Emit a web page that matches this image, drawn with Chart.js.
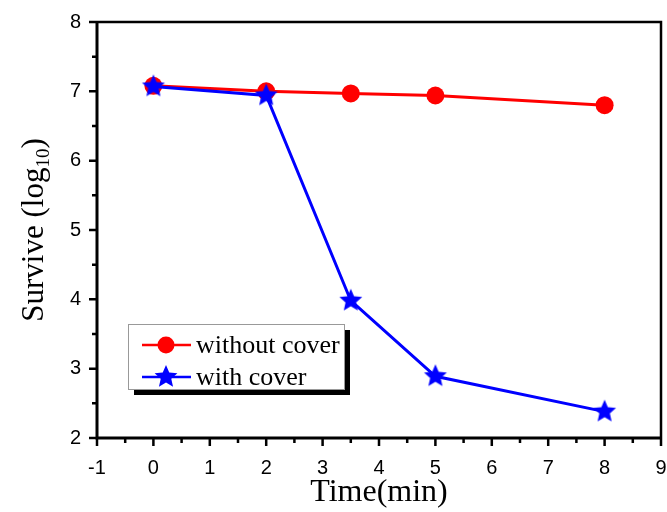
<!DOCTYPE html>
<html>
<head>
<meta charset="utf-8">
<script src="https://cdn.jsdelivr.net/npm/chart.js@4/dist/chart.umd.min.js"></script>
<style>
  html, body { margin: 0; padding: 0; background: #fff; }
  #wrap { width: 667px; height: 512px; }
</style>
</head>
<body>
<div id="wrap"><canvas id="survChart" width="667" height="512"></canvas></div>
<script>
// data
var times = [0, 2, 3.5, 5, 8];
var withoutCover = [7.08, 7.00, 6.97, 6.94, 6.80];
var withCover = [7.07, 6.94, 3.98, 2.89, 2.38];
var seriesLabels = ['without cover', 'with cover'];
var xTicks = [-1, 0, 1, 2, 3, 4, 5, 6, 7, 8, 9];
var yTicks = [2, 3, 4, 5, 6, 7, 8];

// filled five point star used as point style
function makeStar(r, color) {
    var c = document.createElement('canvas');
    c.width = c.height = 2 * r + 2;
    var g = c.getContext('2d');
    g.beginPath();
    for (var i = 0; i < 10; i++) {
        var rad = i % 2 ? r * 0.46 : r;
        var a = -Math.PI / 2 + i * Math.PI / 5;
        g.lineTo(r + 1 + rad * Math.cos(a), r + 1 + rad * Math.sin(a));
    }
    g.closePath();
    g.fillStyle = color;
    g.fill();
    return c;
}
var star = makeStar(12, '#0000ff');

function toXY(xs, ys) {
    return xs.map(function(x, i) { return {x: x, y: ys[i]}; });
}

// axis frame, minor ticks, y title and boxed legend
var decorPlugin = {
    id: 'decor',
    afterDraw: function(chart) {
        var ctx = chart.ctx;
        var a = chart.chartArea;
        var xs = chart.scales.x, ys = chart.scales.y;
        ctx.save();
        ctx.strokeStyle = '#000';
        // top / right frame
        ctx.lineWidth = 2.5;
        ctx.beginPath();
        ctx.moveTo(a.left, a.top);
        ctx.lineTo(a.right, a.top);
        ctx.lineTo(a.right, a.bottom);
        ctx.stroke();
        // left / bottom axes
        ctx.lineWidth = 3;
        ctx.beginPath();
        ctx.moveTo(a.left, a.top - 1);
        ctx.lineTo(a.left, a.bottom);
        ctx.lineTo(a.right + 1, a.bottom);
        ctx.stroke();
        // ticks (outward)
        ctx.lineWidth = 2.5;
        ctx.beginPath();
        for (var v = -1; v <= 9.001; v += 0.5) {
            var px = xs.getPixelForValue(v);
            var len = Math.abs(v - Math.round(v)) < 1e-6 ? 8 : 5;
            ctx.moveTo(px, a.bottom);
            ctx.lineTo(px, a.bottom + len);
        }
        for (var w = 2; w <= 8.001; w += 0.5) {
            var py = ys.getPixelForValue(w);
            var l2 = Math.abs(w - Math.round(w)) < 1e-6 ? 8 : 5;
            ctx.moveTo(a.left, py);
            ctx.lineTo(a.left - l2, py);
        }
        ctx.stroke();

        // y title with subscript
        ctx.fillStyle = '#000';
        ctx.translate(35, (a.top + a.bottom) / 2);
        ctx.rotate(-Math.PI / 2);
        ctx.textBaseline = 'middle';
        var big = '31px "Liberation Serif", "Times New Roman", serif';
        var small = '19px "Liberation Serif", "Times New Roman", serif';
        ctx.font = big;
        var p1 = 'Survive (log', p3 = ')';
        var w1 = ctx.measureText(p1).width, w3 = ctx.measureText(p3).width;
        ctx.font = small;
        var w2 = ctx.measureText('10').width;
        var x0 = -(w1 + w2 + w3) / 2;
        ctx.font = big;
        ctx.textAlign = 'left';
        ctx.fillText(p1, x0, 0);
        ctx.font = small;
        ctx.fillText('10', x0 + w1, 9);
        ctx.font = big;
        ctx.fillText(p3, x0 + w1 + w2, 0);
        ctx.restore();

        // legend box with shadow
        ctx.save();
        var bx = a.left + 31, by = a.top + 302, bw = 216, bh = 65;
        ctx.fillStyle = '#000';
        ctx.fillRect(bx + 6, by + 6, bw, bh);
        ctx.fillStyle = '#fff';
        ctx.fillRect(bx, by, bw, bh);
        ctx.strokeStyle = '#999';
        ctx.lineWidth = 1;
        ctx.strokeRect(bx + 0.5, by + 0.5, bw, bh);
        var colors = ['#ff0000', '#0000ff'];
        for (var k = 0; k < 2; k++) {
            var ly = by + 21 + k * 32;
            ctx.strokeStyle = colors[k];
            ctx.lineWidth = 2.5;
            ctx.beginPath();
            ctx.moveTo(bx + 14, ly);
            ctx.lineTo(bx + 63, ly);
            ctx.stroke();
            if (k === 0) {
                ctx.fillStyle = colors[k];
                ctx.beginPath();
                ctx.arc(bx + 38, ly, 8.5, 0, Math.PI * 2);
                ctx.fill();
            } else {
                ctx.drawImage(star, bx + 38 - star.width / 2, ly - star.height / 2);
            }
            ctx.fillStyle = '#000';
            ctx.font = '26px "Liberation Serif", "Times New Roman", serif';
            ctx.textBaseline = 'middle';
            ctx.textAlign = 'left';
            ctx.fillText(seriesLabels[k], bx + 68, ly + 1);
        }
        ctx.restore();
    }
};

var tickFont = { family: '"Liberation Sans", Arial, sans-serif', size: 20 };

new Chart(document.getElementById('survChart').getContext('2d'), {
    type: 'line',
    data: {
        datasets: [{
            label: seriesLabels[1],
            data: toXY(times, withCover),
            borderColor: '#0000ff',
            backgroundColor: '#0000ff',
            borderWidth: 3,
            pointStyle: star,
            pointRadius: 12,
            tension: 0,
            order: 0
        }, {
            label: seriesLabels[0],
            data: toXY(times, withoutCover),
            borderColor: '#ff0000',
            backgroundColor: '#ff0000',
            borderWidth: 3,
            pointStyle: 'circle',
            pointRadius: 9,
            pointBorderWidth: 0,
            tension: 0,
            order: 1
        }]
    },
    options: {
        responsive: false,
        animation: false,
        layout: { autoPadding: false, padding: { top: 22, right: 6, left: 0, bottom: 0 } },
        plugins: {
            legend: { display: false },
            tooltip: { enabled: false }
        },
        scales: {
            x: {
                type: 'linear',
                min: -1,
                max: 9,
                afterBuildTicks: function(scale) {
                    scale.ticks = xTicks.map(function(v) { return {value: v}; });
                },
                afterFit: function(scale) {
                    scale.height = 74;
                    scale.paddingLeft = 0;
                    scale.paddingRight = 0;
                },
                grid: { display: false, drawTicks: false },
                border: { display: false },
                ticks: { color: '#000', font: tickFont, padding: 18, maxRotation: 0 },
                title: {
                    display: true,
                    text: 'Time(min)',
                    color: '#000',
                    font: { family: '"Liberation Serif", "Times New Roman", serif', size: 32, lineHeight: 1.2 },
                    padding: 0
                }
            },
            y: {
                type: 'linear',
                min: 2,
                max: 8,
                afterBuildTicks: function(scale) {
                    scale.ticks = yTicks.map(function(v) { return {value: v}; });
                },
                afterFit: function(scale) {
                    scale.width = 97;
                    scale.paddingTop = 0;
                    scale.paddingBottom = 0;
                },
                grid: { display: false, drawTicks: false },
                border: { display: false },
                ticks: { color: '#000', font: tickFont, padding: 16 }
            }
        }
    },
    plugins: [decorPlugin]
});
</script>
</body>
</html>
